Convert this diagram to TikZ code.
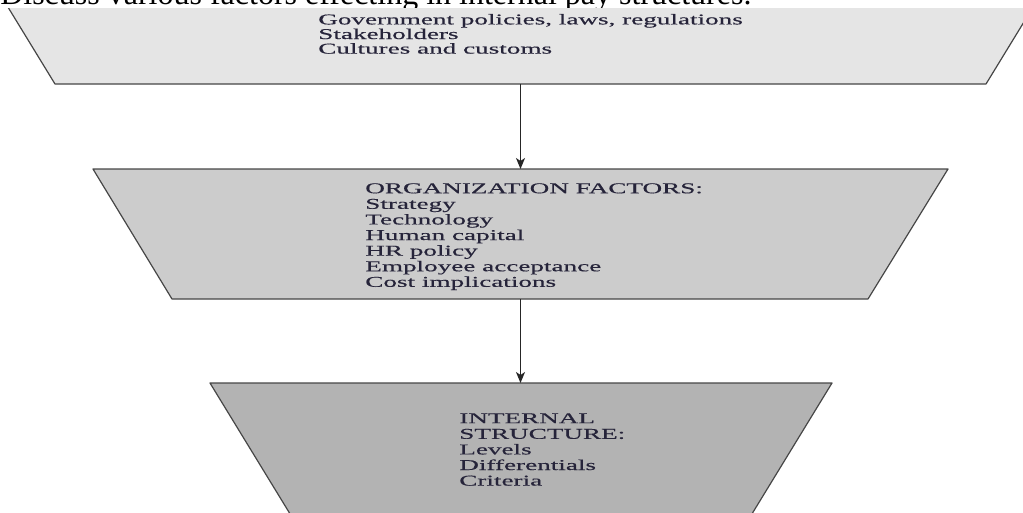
\documentclass[tikz,border=0pt]{standalone}
\usepackage{fontspec}
\setmainfont{Liberation Serif}
\newfontfamily\boxfont[FakeStretch=1.81,FakeBold=0.4]{Liberation Serif}
\usetikzlibrary{arrows.meta}
\newcommand\X{520.5}

\definecolor{boxtext}{RGB}{38,36,58}
\definecolor{boxline}{RGB}{70,70,70}
\definecolor{extfill}{RGB}{229,229,229}
\definecolor{orgfill}{RGB}{204,204,204}
\definecolor{intfill}{RGB}{179,179,179}

\begin{document}
\begin{tikzpicture}[x=1pt,y=-1pt,>={Stealth[length=11pt,width=9pt,inset=3pt]},
                    semithick]

  \tikzstyle{box}=[draw=boxline,line width=1.2pt,line join=round]
  \tikzstyle{list}=[anchor=north west,align=left,inner sep=0pt,text=boxtext,
                    font=\boxfont\fontsize{15}{15.6}\selectfont]

  \useasboundingbox (0,0) rectangle (1023,512);

  \node[anchor=base west,inner sep=0pt,font=\fontsize{32}{36}\selectfont] (title) at (0,4.5)
    {Discuss various factors effecting in internal pay structures.};

  % the three funnel boxes
  \begin{scope}
    \clip (0,8) rectangle (1023,512);
    \draw[box,fill=extfill] (-2.5,-10) -- (1043.5,-10) -- (986,84) -- (55,84) -- cycle;
    \draw[box,fill=orgfill] (93,169) -- (948,169) -- (868,299) -- (172,299) -- cycle;
    \draw[box,fill=intfill] (210,383) -- (832,383) -- (736,540) -- (306,540) -- cycle;
  \end{scope}

  \coordinate (extbot) at (\X,84);
  \coordinate (orgtop) at (\X,169);
  \coordinate (orgbot) at (\X,299);
  \coordinate (inttop) at (\X,383);

  \node[list,font=\boxfont\fontsize{15}{14.6}\selectfont] (extlist) at (318,13.7)
    {Government policies, laws, regulations\\Stakeholders\\Cultures and customs};
  \node[list] (orglist) at (365,183)
    {ORGANIZATION FACTORS:\\Strategy\\Technology\\Human capital\\HR policy\\Employee acceptance\\Cost implications};
  \node[list] (intlist) at (459,413)
    {INTERNAL\\STRUCTURE:\\Levels\\Differentials\\Criteria};

  \path[->,line width=1.2pt,black!85]
  (extbot) edge (orgtop)
  (orgbot) edge (inttop)
  ;

\end{tikzpicture}
\end{document}
